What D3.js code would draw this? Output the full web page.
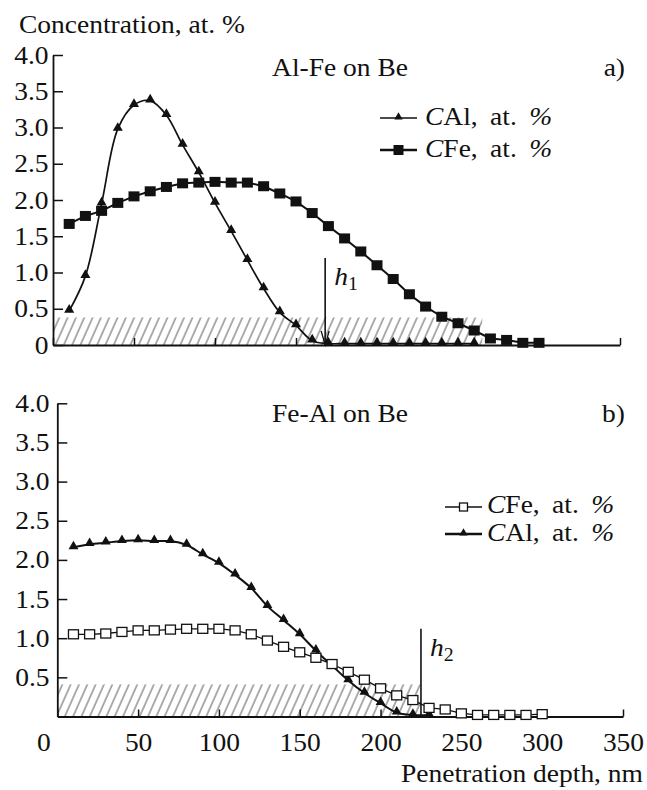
<!DOCTYPE html>
<html>
<head>
<meta charset="utf-8">
<script src="https://cdn.jsdelivr.net/npm/d3@7"></script>
<style>
  html, body { margin: 0; padding: 0; background: #fff; }
  svg { display: block; }
  svg text { font-family: "Liberation Serif", "Times New Roman", serif; fill: #111; }
</style>
</head>
<body>
<script>
// ---------- data ----------
const xTicks = [0, 50, 100, 150, 200, 250, 300, 350];
const yTicksTop = [0, 0.5, 1.0, 1.5, 2.0, 2.5, 3.0, 3.5, 4.0];
const yTicksBottom = [0.5, 1.0, 1.5, 2.0, 2.5, 3.0, 3.5, 4.0];

// panel a) Al-Fe on Be
const depthAlA = [10,20,30,40,50,60,70,80,90,100,110,120,130,140,150,160,170,180,190,200,210,220,230,240,250,260];
const cAlA     = [0.47,0.95,1.95,2.98,3.31,3.37,3.17,2.76,2.38,1.96,1.57,1.17,0.78,0.45,0.27,0.06,0.02,0.02,0.02,0.02,0.02,0.02,0.02,0.02,0.02,0.02];
const depthFeA = [10,20,30,40,50,60,70,80,90,100,110,120,130,140,150,160,170,180,190,200,210,220,230,240,250,260,270,280,290,300];
const cFeA     = [1.67,1.78,1.85,1.96,2.05,2.12,2.18,2.23,2.24,2.25,2.24,2.24,2.19,2.09,1.98,1.82,1.64,1.47,1.29,1.10,0.91,0.70,0.53,0.39,0.30,0.20,0.09,0.07,0.03,0.03];

// panel b) Fe-Al on Be
const depthFeB = [10,20,30,40,50,60,70,80,90,100,110,120,130,140,150,160,170,180,190,200,210,220,230,240,250,260,270,280,290,300];
const cFeB     = [1.05,1.05,1.06,1.08,1.10,1.10,1.11,1.12,1.12,1.12,1.10,1.05,0.97,0.89,0.82,0.75,0.67,0.57,0.47,0.36,0.27,0.21,0.11,0.09,0.04,0.02,0.02,0.02,0.02,0.03];
const depthAlB = [10,20,30,40,50,60,70,80,90,100,110,120,130,140,150,160,170,180,190,200,210,220,230];
const cAlB     = [2.16,2.20,2.22,2.24,2.25,2.24,2.24,2.19,2.07,1.96,1.81,1.64,1.41,1.23,1.05,0.84,0.65,0.46,0.30,0.17,0.05,0.02,0.02];

// hatched zones [depth end, concentration top] and marked depths h1/h2 [depth, top]
const hatchA = [265, 0.38];
const hatchB = [225, 0.41];
const hA = [168, 1.2];
const hB = [225, 1.12];

const titles = ["Al-Fe on Be", "Fe-Al on Be"];
const panelTags = ["a)", "b)"];
const yTitle = "Concentration, at. %";
const xTitle = "Penetration depth, nm";

// ---------- drawing ----------
const W = 647, H = 790, SX = 1.1, FS = 25;
const FONT = '"Liberation Serif", "Times New Roman", serif';
const svg = d3.select("body").append("svg").attr("width", W).attr("height", H)
  .style("font-family", FONT);

const defs = svg.append("defs");
const pat = defs.append("pattern").attr("id", "hatch").attr("patternUnits", "userSpaceOnUse")
  .attr("width", 7.6).attr("height", 20).attr("patternTransform", "rotate(24)");
pat.append("line").attr("x1", 1).attr("y1", 0).attr("x2", 1).attr("y2", 20)
  .attr("stroke", "#6a6a6a").attr("stroke-width", 1.1);

function txt(g, x, y, str, anchor, italic) {
  return g.append("text")
    .attr("transform", `translate(${x},${y}) scale(${SX},1)`)
    .attr("text-anchor", anchor || "start")
    .style("font-family", FONT)
    .attr("font-size", FS)
    .attr("font-style", italic ? "italic" : "normal")
    .text(str);
}
function legendText(g, x, y, sym) {
  const t = g.append("text")
    .attr("transform", `translate(${x},${y}) scale(${SX},1)`)
    .style("font-family", FONT)
    .attr("font-size", FS).attr("word-spacing", 5);
  t.append("tspan").attr("font-style", "italic").text("C");
  t.append("tspan").text(sym + ", at. ");
  t.append("tspan").attr("font-style", "italic").text("%");
}

const tri = d3.symbol().type(d3.symbolTriangle);
function triPath(size) { return tri.size(size)(); }

const panels = [
  { x0: 53, x1: 620, y0: 345, y4: 55, yTicks: yTicksTop, labelsX: false, yPad: 4,
    hatch: hatchA, h: hA, hName: "1", hArrow: true, title: titles[0], tag: panelTags[0], titleY: 76 },
  { x0: 57.3, x1: 623, y0: 716.5, y4: 403.3, yTicks: yTicksBottom, labelsX: true, yPad: 7,
    hatch: hatchB, h: hB, hName: "2", hArrow: false, title: titles[1], tag: panelTags[1], titleY: 422 }
];

panels.forEach((p, i) => {
  const x = d3.scaleLinear().domain([0, 350]).range([p.x0, p.x1]);
  const y = d3.scaleLinear().domain([0, 4]).range([p.y0, p.y4]);
  const g = svg.append("g");
  p.xs = x; p.ys = y; p.g = g;

  // hatch
  g.append("rect").attr("x", x(0)).attr("y", y(p.hatch[1]))
    .attr("width", x(p.hatch[0]) - x(0)).attr("height", y(0) - y(p.hatch[1]))
    .attr("fill", "url(#hatch)");

  // x axis
  const xa = g.append("g").attr("transform", `translate(0,${y(0)})`)
    .call(d3.axisBottom(x).tickValues(xTicks).tickSize(-7).tickSizeOuter(0)
      .tickFormat(p.labelsX ? d3.format("d") : () => ""));
  xa.attr("font-family", null);
  xa.select(".domain").attr("stroke", "#111").attr("stroke-width", 1.8);
  xa.selectAll(".tick line").attr("stroke", "#111").attr("stroke-width", 1.5);
  xa.selectAll(".tick text").attr("font-size", FS).attr("fill", "#111")
    .style("font-family", FONT)
    .attr("y", 34.5).attr("dy", 0)
    .attr("transform", `scale(${SX},1)`)
    .attr("x", d => d === 0 ? -14 / SX : 0);

  // y axis
  const ya = g.append("g").attr("transform", `translate(${x(0)},0)`)
    .call(d3.axisLeft(y).tickValues(p.yTicks).tickSize(-10).tickSizeOuter(0)
      .tickPadding(p.yPad).tickFormat(d => d === 0 ? "0" : d.toFixed(1)));
  ya.attr("font-family", null);
  ya.select(".domain").attr("stroke", "#111").attr("stroke-width", 1.8);
  ya.selectAll(".tick line").attr("stroke", "#111").attr("stroke-width", 1.5);
  ya.selectAll(".tick text").attr("font-size", FS).attr("fill", "#111")
    .style("font-family", FONT)
    .attr("transform", `scale(${SX},1)`);

  // titles
  txt(g, 340, p.titleY, p.title, "middle");
  txt(g, 625, p.titleY, p.tag, "end");

  // h marker
  const hx = x(p.h[0]);
  g.append("line").attr("x1", hx).attr("x2", hx).attr("y1", y(p.h[1])).attr("y2", y(0))
    .attr("stroke", "#111").attr("stroke-width", 1.6);
  if (p.hArrow) {
    g.append("path").attr("d", `M${hx - 4},${y(0) - 14} L${hx},${y(0)} L${hx + 4},${y(0) - 14}`)
      .attr("fill", "none").attr("stroke", "#111").attr("stroke-width", 1.3);
  }
  const ht = g.append("text")
    .attr("transform", `translate(${hx + 9},${y(p.h[1]) + 27}) scale(${SX},1)`)
    .style("font-family", FONT)
    .attr("font-size", FS);
  ht.append("tspan").attr("font-style", "italic").text("h");
  ht.append("tspan").attr("font-size", 18).attr("dy", 5).text(p.hName);
});

// ---------- series ----------
const A = panels[0], B = panels[1];
const lineA = (xs, vs, curve) => d3.line().curve(curve)
  .x((d, i) => A.xs(xs[i])).y(d => A.ys(d))(vs);
const lineB = (xs, vs, curve) => d3.line().curve(curve)
  .x((d, i) => B.xs(xs[i])).y(d => B.ys(d))(vs);

// a) CFe line + filled squares
A.g.append("path").attr("d", lineA(depthFeA, cFeA, d3.curveLinear))
  .attr("fill", "none").attr("stroke", "#111").attr("stroke-width", 2);
A.g.selectAll(".sqA").data(cFeA).join("rect")
  .attr("x", (d, i) => A.xs(depthFeA[i]) - 5.5).attr("y", d => A.ys(d) - 5)
  .attr("width", 11).attr("height", 10).attr("fill", "#111");
// a) CAl smooth curve + filled triangles
A.g.append("path").attr("d", lineA(depthAlA, cAlA, d3.curveCatmullRom.alpha(0.5)))
  .attr("fill", "none").attr("stroke", "#111").attr("stroke-width", 1.7);
A.g.selectAll(".triA").data(cAlA).join("path")
  .attr("d", triPath(44))
  .attr("transform", (d, i) => `translate(${A.xs(depthAlA[i])},${A.ys(d) - 1})`)
  .attr("fill", "#111");

// b) CAl smooth curve + filled triangles
B.g.append("path").attr("d", lineB(depthAlB, cAlB, d3.curveCatmullRom.alpha(0.5)))
  .attr("fill", "none").attr("stroke", "#111").attr("stroke-width", 2);
B.g.selectAll(".triB").data(cAlB).join("path")
  .attr("d", triPath(42))
  .attr("transform", (d, i) => `translate(${B.xs(depthAlB[i])},${B.ys(d) - 1})`)
  .attr("fill", "#111");
// b) CFe thin line + open squares
B.g.append("path").attr("d", lineB(depthFeB, cFeB, d3.curveLinear))
  .attr("fill", "none").attr("stroke", "#111").attr("stroke-width", 1.3);
B.g.selectAll(".sqB").data(cFeB).join("rect")
  .attr("x", (d, i) => B.xs(depthFeB[i]) - 5).attr("y", d => B.ys(d) - 4.5)
  .attr("width", 10).attr("height", 9).attr("fill", "#fff")
  .attr("stroke", "#111").attr("stroke-width", 1.3);

// ---------- legends ----------
const lg = svg.append("g");
// a)
lg.append("line").attr("x1", 380).attr("x2", 417).attr("y1", 118).attr("y2", 118).attr("stroke", "#111").attr("stroke-width", 1.7);
lg.append("path").attr("d", triPath(30)).attr("transform", "translate(398.5,117)").attr("fill", "#111");
legendText(lg, 425, 125, "Al");
lg.append("line").attr("x1", 380).attr("x2", 417).attr("y1", 150).attr("y2", 150).attr("stroke", "#111").attr("stroke-width", 2.6);
lg.append("rect").attr("x", 393.5).attr("y", 145).attr("width", 10).attr("height", 10).attr("fill", "#111");
legendText(lg, 425, 157, "Fe");
// b)
lg.append("line").attr("x1", 445).attr("x2", 482).attr("y1", 507).attr("y2", 507).attr("stroke", "#111").attr("stroke-width", 1.6);
lg.append("rect").attr("x", 459.5).attr("y", 503).attr("width", 8).attr("height", 8).attr("fill", "#fff").attr("stroke", "#111").attr("stroke-width", 1.3);
legendText(lg, 487, 513, "Fe");
lg.append("line").attr("x1", 445).attr("x2", 482).attr("y1", 534).attr("y2", 534).attr("stroke", "#111").attr("stroke-width", 2.6);
lg.append("path").attr("d", triPath(30)).attr("transform", "translate(463.5,533)").attr("fill", "#111");
legendText(lg, 487, 541, "Al");

// ---------- axis titles ----------
txt(svg, 19, 33, yTitle, "start");
txt(svg, 643, 782, xTitle, "end");
</script>
</body>
</html>
